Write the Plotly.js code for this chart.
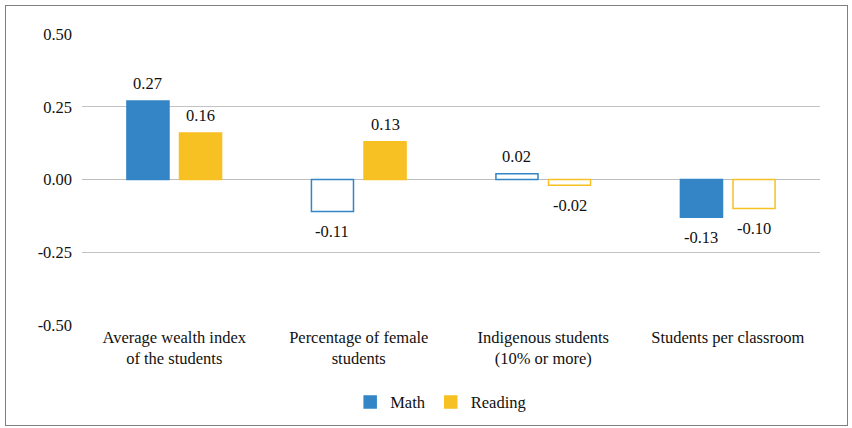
<!DOCTYPE html>
<html><head><meta charset="utf-8">
<script src="https://cdn.plot.ly/plotly-3.0.1.min.js"></script>
<style>
body{margin:0;background:#fff;}
#wrap{position:relative;width:852px;height:428px;}
#chart{position:absolute;left:0;top:0;width:852px;height:428px;}
#frame{position:absolute;left:5px;top:5px;width:843px;height:421px;border:1.5px solid #7f7f7f;box-sizing:border-box;pointer-events:none;}
</style></head>
<body>
<div id="wrap"><div id="chart"></div><div id="frame"></div></div>
<script>
const categories = ["Average wealth index<br>of the students", "Percentage of female<br>students", "Indigenous students<br>(10% or more)", "Students per classroom"];
const mathValues = [0.27, -0.11, 0.02, -0.13];
const readingValues = [0.16, 0.13, -0.02, -0.10];
const mathSolid = [true, false, false, true];
const readingSolid = [true, true, false, false];
const tickVals = [-0.5, -0.25, 0, 0.25, 0.5];
const tickText = ["-0.50", "-0.25", "0.00", "0.25", "0.50"];

const blue = "#3385C6", gold = "#F7C023";
function fills(solid, c){ return solid.map(s => s ? c : "rgba(255,255,255,1)"); }

const font = {family: "'Liberation Serif', 'Times New Roman', serif", size: 16.5, color: "#111"};
const traces = [
  {type:"bar", name:"Math", x:categories, y:mathValues,
   marker:{color:fills(mathSolid, blue), line:{color:blue, width:1.5}}},
  {type:"bar", name:"Reading", x:categories, y:readingValues,
   marker:{color:fills(readingSolid, gold), line:{color:gold, width:1.5}}}
];
function labels(vals, xshift){
  return vals.map((v,i)=>({x:categories[i], y:v, xref:"x", yref:"y", text:v.toFixed(2), showarrow:false,
    xshift:xshift, yshift: v>=0 ? 17 : -20, yanchor:"middle", font:font}));
}
const layout = {
  width:852, height:428,
  margin:{l:82, r:32, t:34, b:103, autoexpand:false},
  paper_bgcolor:"#fff", plot_bgcolor:"#fff",
  font:font,
  barmode:"group", bargap:0.43, bargroupgap:0.2,
  xaxis:{type:"category", showgrid:false, zeroline:false, showline:false, ticks:"", tickfont:font, tickangle:0, automargin:false},
  yaxis:{range:[-0.5,0.5], tickvals:tickVals, ticktext:tickText, showgrid:true, gridcolor:"#c3c3c3", gridwidth:1.2,
         zeroline:true, zerolinecolor:"#bdbdbd", zerolinewidth:1.5, showline:false, ticks:"", ticklen:0, ticklabelstandoff:9, tickfont:font, automargin:false},
  annotations: labels(mathValues, -26.5).concat(labels(readingValues, 26.5)),
  showlegend:true,
  legend:{orientation:"h", x:0.486, xanchor:"center", yref:"container", y:0.06, yanchor:"middle", font:font, traceorder:"normal", itemwidth:30}
};
Plotly.newPlot("chart", traces, layout, {displayModeBar:false, staticPlot:true});
</script>
</body></html>
